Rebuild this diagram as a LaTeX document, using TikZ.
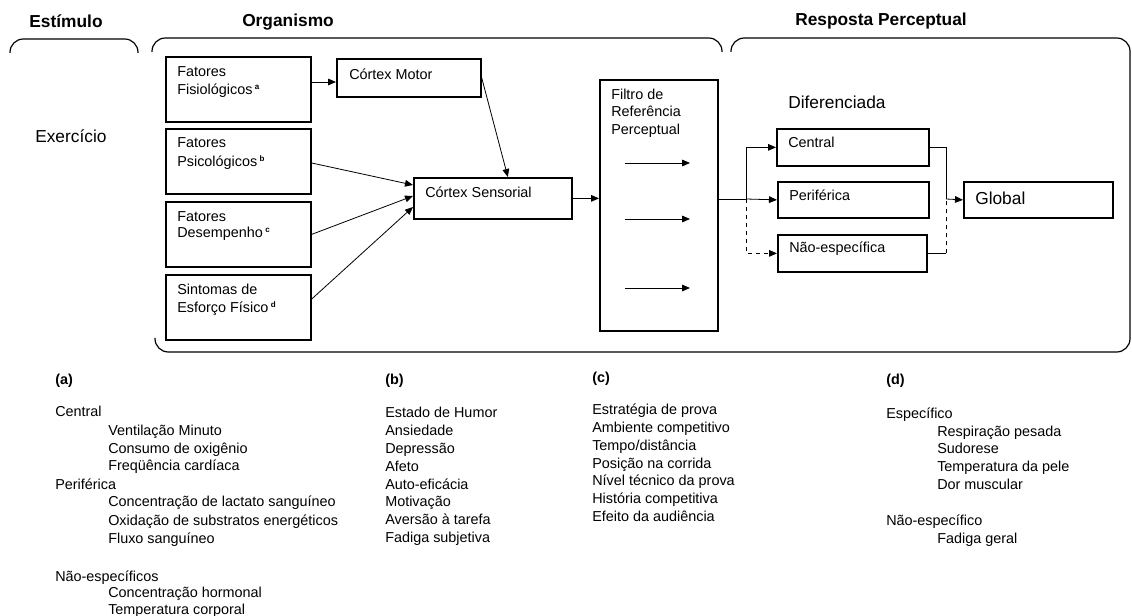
\documentclass[tikz,border=0pt]{standalone}
\usepackage{fontspec}
\setmainfont{Liberation Sans}
\usetikzlibrary{arrows.meta,calc}
\newcommand\bx[5]{\node[box,minimum width=#4*0.75pt,minimum height=#5*0.75pt] (#1) at (#2,#3) {};}
\newcommand\sups[1]{\,\textsuperscript{\fontsize{6}{6}\selectfont\bfseries #1}}
\begin{document}
\begin{tikzpicture}[x=0.75pt,y=-0.75pt,
 box/.style={draw, line width=1.3pt, inner sep=0pt, anchor=north west},
 txt/.style={anchor=base west, inner sep=0pt, font=\fontsize{10.8}{13}\selectfont},
 big/.style={anchor=base west, inner sep=0pt, font=\fontsize{13}{15}\selectfont},
 hdr/.style={anchor=base, inner sep=0pt, font=\fontsize{13}{15}\selectfont\bfseries},
 lsth/.style={anchor=base west, inner sep=0pt, font=\fontsize{10.8}{13}\selectfont\bfseries},
 arr/.style={line width=0.6pt, -{Triangle[length=6pt,width=5pt]}},
 ln/.style={line width=0.6pt},
 brk/.style={line width=0.9pt, rounded corners=10pt}]
\useasboundingbox (0,0) rectangle (1132,616);
% headers
\node[hdr] (hs) at (66,28) {Estímulo};
\node[hdr] (ho) at (288,27) {Organismo};
\node[hdr] (hr) at (881,26) {Resposta Perceptual};
% brackets
\draw[brk] (10,53) -- (10,39) -- (138,39) -- (138,53);
\draw[brk] (152,52) -- (152,38) -- (722,38) -- (722,52);
\draw[brk] (731,52) -- (731,38) -- (1130,38) -- (1130,352) -- (155,352) -- (155,338);
\node[big] (ex) at (35,143) {Exercício};
% boxes
\bx{fis}{165}{56}{145}{65}
\bx{psi}{165}{128}{145}{65}
\bx{des}{165}{201}{145}{65}
\bx{sin}{165}{274}{145}{65}
\bx{mot}{336}{58}{144}{38}
\bx{sen}{413}{177}{158}{41}
\bx{fil}{599}{79}{118}{251}
\bx{cen}{776}{128}{152}{37}
\bx{per}{777}{181}{151}{36}
\bx{nao}{777}{234}{149}{37}
\bx{glo}{963}{181}{149}{36}
% box texts
\node[txt] (tf1) at (177,77) {Fatores};
\node[txt] (tf2) at (177,95) {Fisiológicos\sups{a}};
\node[txt] (tp1) at (177,148) {Fatores};
\node[txt] (tp2) at (177,167) {Psicológicos\sups{b}};
\node[txt] (td1) at (177,222) {Fatores};
\node[txt] (td2) at (177,238) {Desempenho\sups{c}};
\node[txt] (ts1) at (177,295) {Sintomas de};
\node[txt] (ts2) at (177,313) {Esforço Físico\sups{d}};
\node[txt] (tm) at (349,80) {Córtex Motor};
\node[txt] (tse) at (425,198) {Córtex Sensorial};
\node[txt] (tfi1) at (611,100) {Filtro de};
\node[txt] (tfi2) at (611,117) {Referência};
\node[txt] (tfi3) at (611,135) {Perceptual};
\node[txt] (tc) at (788,148) {Central};
\node[txt] (tpe) at (789,201) {Periférica};
\node[txt] (tn) at (789,253) {Não-específica};
\node[big] (tg) at (975,205) {Global};
\node[big] (tdif) at (788,109) {Diferenciada};
% filter inner arrows
\coordinate (f1s) at (625,163); \coordinate (f1e) at (690,163);
\coordinate (f2s) at (625,219); \coordinate (f2e) at (690,219);
\coordinate (f3s) at (625,288); \coordinate (f3e) at (690,288);
\draw[arr] (f1s) -- (f1e);
\draw[arr] (f2s) -- (f2e);
\draw[arr] (f3s) -- (f3e);
% connectors
\draw[arr] (fis.east |- 0,82) -- (mot.west |- 0,82);
\draw[arr] (mot.east) -- ($(sen.north)+(15,0)$);
\draw[arr] (psi.east |- 0,163) -- (sen.west |- 0,185);
\draw[arr] (des.east) -- (sen.west |- 0,196);
\draw[arr] (sin.east |- 0,299) -- (sen.west |- 0,207);
\draw[arr] (sen.east) -- (fil.west |- sen.east);
\coordinate (br) at (746,199);
\draw[ln] (fil.east |- br) -- (br);
\draw[arr] (br) -- (per.west);
\draw[arr] (br) |- (cen.west);
\draw[arr, dashed] (br) |- (nao.west);
\coordinate (jn) at (946,199);
\draw[ln] (cen.east) -| (jn);
\draw[ln] (nao.east) -- (nao.east -| jn);
\draw[ln, dashed] (nao.east -| jn) -- (jn);
\draw[arr] (jn) -- (glo.west);
% list (a)
\node[lsth] (la) at (55,385) {(a)};
\node[txt] (a1) at (55,417) {Central};
\node[txt] (a2) at (108,436) {Ventilação Minuto};
\node[txt] (a3) at (108,454) {Consumo de oxigênio};
\node[txt] (a4) at (108,471) {Freqüência cardíaca};
\node[txt] (a5) at (55,489) {Periférica};
\node[txt] (a6) at (108,507) {Concentração de lactato sanguíneo};
\node[txt] (a7) at (108,525) {Oxidação de substratos energéticos};
\node[txt] (a8) at (108,543) {Fluxo sanguíneo};
\node[txt] (a9) at (55,581) {Não-específicos};
\node[txt] (a10) at (108,597) {Concentração hormonal};
\node[txt] (a11) at (108,614) {Temperatura corporal};
% list (b)
\node[lsth] (lb) at (385,385) {(b)};
\foreach \t [count=\i] in {Estado de Humor,Ansiedade,Depressão,Afeto,Auto-eficácia,Motivação,Aversão à tarefa,Fadiga subjetiva}
  \node[txt] (b\i) at (385,{418+17.8*(\i-1)}) {\t};
% list (c)
\node[lsth] (lc) at (592,383) {(c)};
\foreach \t [count=\i] in {Estratégia de prova,Ambiente competitivo,Tempo/distância,Posição na corrida,Nível técnico da prova,História competitiva,Efeito da audiência}
  \node[txt] (c\i) at (592,{415+17.7*(\i-1)}) {\t};
% list (d)
\node[lsth] (ld) at (886,385) {(d)};
\node[txt] (d1) at (886,419) {Específico};
\node[txt] (d2) at (937,437) {Respiração pesada};
\node[txt] (d3) at (937,454) {Sudorese};
\node[txt] (d4) at (937,472) {Temperatura da pele};
\node[txt] (d5) at (937,489) {Dor muscular};
\node[txt] (d6) at (886,525) {Não-específico};
\node[txt] (d7) at (937,543) {Fadiga geral};
\end{tikzpicture}
\end{document}
